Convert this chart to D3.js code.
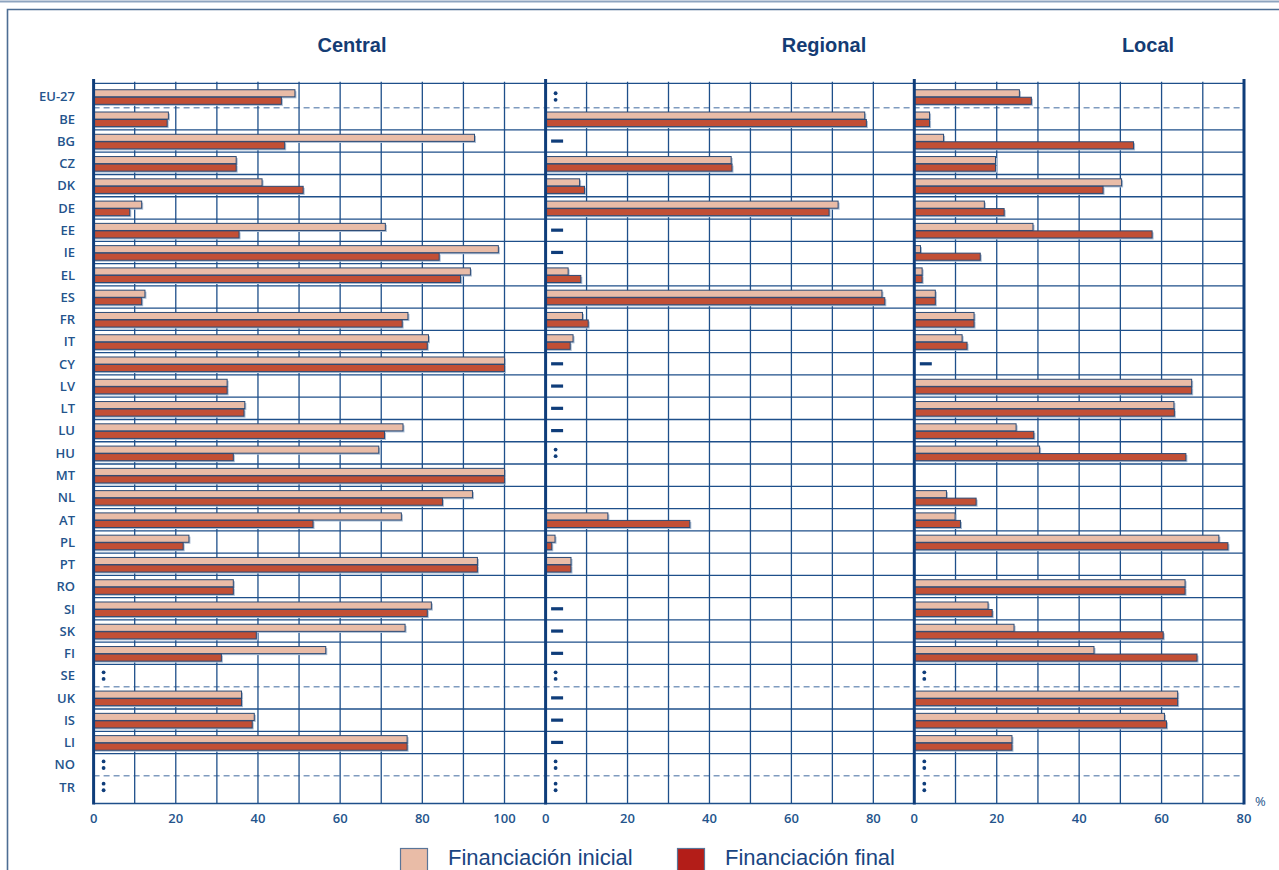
<!DOCTYPE html>
<html>
<head>
<meta charset="utf-8">
<script src="https://cdn.jsdelivr.net/npm/d3@7"></script>
<style>
  html, body { margin: 0; padding: 0; background: #ffffff; }
  svg { display: block; }
</style>
</head>
<body>
<svg id="chart" width="1279" height="870"></svg>
<script>
// Share of funding by level of government, initial vs final (%)
// ":" = not available, "-" = nil, null = not applicable
const categories = ["EU-27","BE","BG","CZ","DK","DE","EE","IE","EL","ES","FR","IT","CY","LV","LT","LU","HU","MT","NL","AT","PL","PT","RO","SI","SK","FI","SE","UK","IS","LI","NO","TR"];

const centralInicial = [49.0,18.2,92.7,34.7,41.0,11.7,71.0,98.5,91.7,12.5,76.5,81.5,100,32.5,36.8,75.3,69.4,100,92.2,74.9,23.2,93.4,34.0,82.2,75.8,56.5,":",36.0,39.1,76.3,":",":"];
const centralFinal   = [45.7,17.9,46.5,34.7,51.0,8.8,35.4,84.1,89.3,11.7,75.1,81.2,100,32.5,36.6,70.8,34.0,100,84.9,53.4,21.8,93.4,34.0,81.2,39.6,31.1,":",36.0,38.6,76.3,":",":"];

const regionalInicial = [":",77.9,"-",45.3,8.3,71.4,"-","-",5.5,82.1,9.0,6.7,"-","-","-","-",":",null,null,15.2,2.3,6.2,null,"-","-","-",":","-","-","-",":",":"];
const regionalFinal   = [":",78.3,"-",45.5,9.5,69.2,"-","-",8.6,82.8,10.4,6.0,"-","-","-","-",":",null,null,35.2,1.5,6.2,null,"-","-","-",":","-","-","-",":",":"];

const localInicial = [25.5,3.7,7.1,19.7,50.3,17.0,28.8,1.5,1.9,5.1,14.5,11.6,"-",67.3,63.0,24.7,30.4,null,7.8,9.9,73.9,null,65.7,17.9,24.2,43.6,":",63.9,60.7,23.7,":",":"];
const localFinal   = [28.4,3.7,53.2,19.7,45.8,21.8,57.7,16.0,1.9,5.1,14.5,12.8,"-",67.3,63.1,29.0,65.9,null,15.0,11.2,76.1,null,65.7,18.9,60.4,68.6,":",63.9,61.2,23.7,":",":"];

const panelTitles = ["Central","Regional","Local"];
const centralTicks = [0,20,40,60,80,100];
const regionalTicks = [0,20,40,60,80];
const localTicks = [0,20,40,60,80];
const legendLabels = ["Financiación inicial","Financiación final"];
const separatorAfter = ["EU-27","SE","NO"];

// ---- styling ----
const NAVY = "#0f3d7a";
const GRID = "#1e4f8a";
const TEXT = "#24548c";
const FILL_INI = "#e9bca7";
const FILL_FIN = "#c24f35";
const LEGEND_FIN = "#b31d18";
const BAR_EDGE = "#2b4a74";
const SHADOW = "#aabdd4";

const svg = d3.select("#chart");

// outer frame
svg.append("line").attr("x1",0).attr("x2",1279).attr("y1",1.5).attr("y2",1.5)
  .attr("stroke","#8ea4bf").attr("stroke-width",2);
svg.append("path").attr("d","M7.5,875 V9.5 H1285")
  .attr("fill","none").attr("stroke","#4d6d93").attr("stroke-width",1.6);

const plotTop = 85.4, plotBottom = 798.1, topLine = 83.4, axisY = 803.5;
const y = d3.scaleBand().domain(categories).range([plotTop, plotBottom]).padding(0);

const panels = [
  { title: panelTitles[0], x: d3.scaleLinear().domain([0,110]).range([93.6,545.6]), ticks: centralTicks, ini: centralInicial, fin: centralFinal, titleX: 352 },
  { title: panelTitles[1], x: d3.scaleLinear().domain([0,90]).range([545.6,914.3]), ticks: regionalTicks, ini: regionalInicial, fin: regionalFinal, titleX: 824 },
  { title: panelTitles[2], x: d3.scaleLinear().domain([0,80]).range([914.3,1244]), ticks: localTicks, ini: localInicial, fin: localFinal, titleX: 1148 }
];

const xLeft = panels[0].x(0), xRight = panels[2].x(80);

// horizontal grid
const g = svg.append("g");
const boundaries = categories.slice(0, -1).map(c => ({ y: y(c) + y.bandwidth(), dashed: separatorAfter.includes(c) }));
g.append("line").attr("x1", xLeft).attr("x2", xRight).attr("y1", topLine).attr("y2", topLine)
  .attr("stroke", GRID).attr("stroke-width", 1.3);
g.selectAll("line.hgrid").data(boundaries).join("line").attr("class","hgrid")
  .attr("x1", xLeft).attr("x2", xRight).attr("y1", d => d.y).attr("y2", d => d.y)
  .attr("stroke", d => d.dashed ? "#7f9bbf" : GRID)
  .attr("stroke-width", d => d.dashed ? 1.5 : 1.3)
  .attr("stroke-dasharray", d => d.dashed ? "6,4" : null);

// vertical grid per panel
panels.forEach(p => {
  const [d0, d1] = p.x.domain();
  const vals = d3.range(d0 + 10, d1 + 1, 10).filter(v => v < d1);
  g.selectAll(null).data(vals).join("line")
    .attr("x1", v => p.x(v)).attr("x2", v => p.x(v))
    .attr("y1", 81.7).attr("y2", axisY)
    .attr("stroke", GRID).attr("stroke-width", 1.3);
});

// bottom axis line
g.append("line").attr("x1", xLeft).attr("x2", xRight).attr("y1", axisY).attr("y2", axisY)
  .attr("stroke", GRID).attr("stroke-width", 1.5);

// bars and markers
const barH = 7.1;
panels.forEach(p => {
  const layer = svg.append("g");
  categories.forEach((c, i) => {
    const cy = y(c) + y.bandwidth() / 2 + 0.3;
    const vi = p.ini[i], vf = p.fin[i];
    if (typeof vi === "number" && typeof vf === "number") {
      const bars = [
        { v: vi, y0: cy - barH, fill: FILL_INI },
        { v: vf, y0: cy + 0.4, fill: FILL_FIN }
      ];
      bars.forEach(b => {
        const w = p.x(b.v) - p.x(0);
        layer.append("rect").attr("x", p.x(0) + 1.5).attr("y", b.y0 + 1.5)
          .attr("width", w).attr("height", barH).attr("fill", SHADOW);
      });
      bars.forEach(b => {
        const w = p.x(b.v) - p.x(0);
        layer.append("rect").attr("x", p.x(0)).attr("y", b.y0)
          .attr("width", w).attr("height", barH)
          .attr("fill", b.fill).attr("stroke", BAR_EDGE).attr("stroke-width", 1);
      });
    } else if (vi === ":") {
      [-3.3, 3.3].forEach(dy => {
        layer.append("circle").attr("cx", p.x(0) + 10).attr("cy", cy - 0.3 + dy)
          .attr("r", 1.9).attr("fill", NAVY);
      });
    } else if (vi === "-") {
      layer.append("rect").attr("x", p.x(0) + 5.5).attr("y", cy - 1.9)
        .attr("width", 12).attr("height", 3.2).attr("fill", NAVY);
    }
  });
});

// thick panel axes
[panels[0].x(0), panels[1].x(0), panels[2].x(0), xRight].forEach(xx => {
  svg.append("line").attr("x1", xx).attr("x2", xx).attr("y1", 79).attr("y2", axisY + 1)
    .attr("stroke", NAVY).attr("stroke-width", 3);
});

// tick labels
panels.forEach(p => {
  svg.append("g").selectAll("text").data(p.ticks).join("text")
    .attr("x", v => p.x(v)).attr("y", 822.5)
    .attr("text-anchor", "middle")
    .attr("font-family", "'Open Sans', sans-serif").attr("font-weight", 600)
    .attr("font-size", 13).attr("fill", TEXT)
    .text(v => v);
});
svg.append("text").attr("x", 1255).attr("y", 806).attr("font-family", "'Open Sans', sans-serif")
  .attr("font-size", 13).attr("fill", TEXT).text("%");

// row labels
svg.append("g").selectAll("text").data(categories).join("text")
  .attr("x", 75).attr("y", c => y(c) + y.bandwidth() / 2 + 4.8)
  .attr("text-anchor", "end")
  .attr("font-family", "'Open Sans', sans-serif").attr("font-weight", 600)
  .attr("font-size", 13).attr("fill", TEXT)
  .text(c => c);

// panel titles
panels.forEach(p => {
  svg.append("text").attr("x", p.titleX).attr("y", 52)
    .attr("text-anchor", "middle")
    .attr("font-family", "'Liberation Sans', Arial, sans-serif").attr("font-weight", "bold")
    .attr("font-size", 20).attr("fill", "#143c74")
    .text(p.title);
});

// legend
const legend = [
  { label: legendLabels[0], fill: FILL_INI, x: 400 },
  { label: legendLabels[1], fill: LEGEND_FIN, x: 677 }
];
legend.forEach(l => {
  svg.append("rect").attr("x", l.x + 0.5).attr("y", 848.5).attr("width", 27).attr("height", 27)
    .attr("fill", l.fill).attr("stroke", "#5a7598").attr("stroke-width", 1.2);
  svg.append("text").attr("x", l.x + 48).attr("y", 865)
    .attr("font-family", "'Liberation Sans', Arial, sans-serif")
    .attr("font-size", 22).attr("fill", "#1a4582")
    .text(l.label);
});
</script>
</body>
</html>
